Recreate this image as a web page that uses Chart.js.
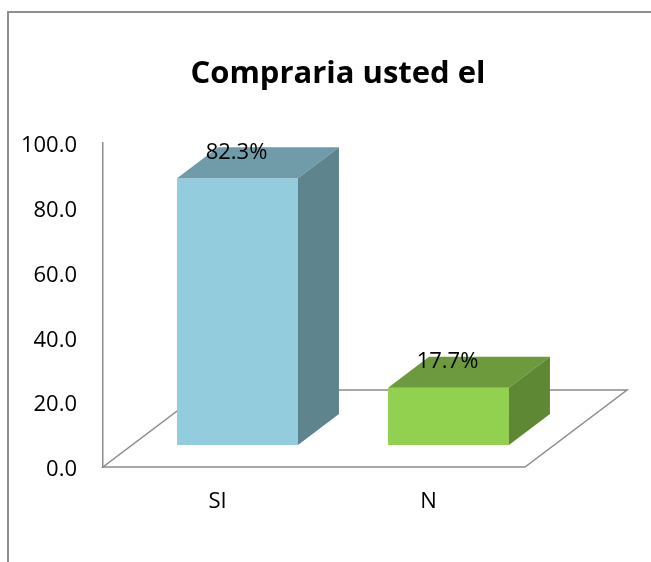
<!DOCTYPE html>
<html>
<head>
<meta charset="utf-8">
<script src="https://cdn.jsdelivr.net/npm/chart.js@4/dist/chart.umd.min.js"></script>
<style>
  html, body { margin: 0; padding: 0; background: #ffffff; }
  #wrap { width: 651px; height: 562px; }
</style>
</head>
<body>
<div id="wrap"><canvas id="c" width="651" height="562"></canvas></div>
<script>
// ---- data ----
const categories = ['SI', 'N'];
const percentValues = [82.3, 17.7];
const valueLabels = ['82.3%', '17.7%'];
const yTickValues = [0, 20, 40, 60, 80, 100];
const chartTitle = 'Compraria usted el';

// ---- styling ----
const frontColors = ['#93CDDD', '#92D050'];
const topColors = ['#6F9CA8', '#6E9A3E'];
const sideColors = ['#5E848D', '#5E8833'];
const FONT = "'Open Sans', 'DejaVu Sans', sans-serif";

// depth geometry (pixels)
const FLOOR_DX = 102, FLOOR_DY = -77;   // full floor depth
const BAR_SHIFT_X = 29, BAR_SHIFT_Y = -22; // bar front plane offset
const BAR_DX = 41, BAR_DY = -31;        // bar depth

const frame3d = {
  id: 'frame3d',
  beforeDraw(chart) {
    const ctx = chart.ctx;
    ctx.save();
    ctx.fillStyle = '#ffffff';
    ctx.fillRect(0, 0, chart.width, chart.height);
    ctx.strokeStyle = '#8E8E8E';
    ctx.lineWidth = 2;
    ctx.strokeRect(8, 12, 800, 800);
    // chart title
    ctx.fillStyle = '#000000';
    ctx.font = 'bold 31px ' + FONT;
    ctx.textAlign = 'center';
    ctx.textBaseline = 'alphabetic';
    ctx.fillText(chartTitle, 338, 83);
    ctx.restore();
  },
  beforeDatasetsDraw(chart) {
    const ctx = chart.ctx;
    const a = chart.chartArea;
    ctx.save();
    ctx.strokeStyle = '#8C8C8C';
    ctx.lineWidth = 1.5;
    ctx.beginPath();
    ctx.moveTo(a.left, a.bottom);
    ctx.lineTo(a.right, a.bottom);
    ctx.lineTo(a.right + FLOOR_DX, a.bottom + FLOOR_DY);
    ctx.lineTo(a.left + FLOOR_DX, a.bottom + FLOOR_DY);
    ctx.closePath();
    ctx.stroke();
    ctx.restore();
    ctx.save();
    ctx.translate(BAR_SHIFT_X, BAR_SHIFT_Y);
  },
  afterDatasetsDraw(chart) {
    const ctx = chart.ctx;
    const meta = chart.getDatasetMeta(0);
    meta.data.forEach((bar, i) => {
      const p = bar.getProps(['x', 'y', 'base', 'width'], true);
      const l = p.x - p.width / 2, r = p.x + p.width / 2, t = p.y, b = p.base;
      // top face
      ctx.fillStyle = topColors[i];
      ctx.beginPath();
      ctx.moveTo(l, t);
      ctx.lineTo(r, t);
      ctx.lineTo(r + BAR_DX, t + BAR_DY);
      ctx.lineTo(l + BAR_DX, t + BAR_DY);
      ctx.closePath();
      ctx.fill();
      // side face
      ctx.fillStyle = sideColors[i];
      ctx.beginPath();
      ctx.moveTo(r, t);
      ctx.lineTo(r + BAR_DX, t + BAR_DY);
      ctx.lineTo(r + BAR_DX, b + BAR_DY);
      ctx.lineTo(r, b);
      ctx.closePath();
      ctx.fill();
    });
    // value labels
    ctx.fillStyle = '#000000';
    ctx.font = '22px ' + FONT;
    ctx.textAlign = 'center';
    ctx.textBaseline = 'middle';
    meta.data.forEach((bar, i) => {
      const p = bar.getProps(['x', 'y'], true);
      ctx.fillText(valueLabels[i], p.x - 1, p.y - 26);
    });
    ctx.restore();
  }
};

new Chart(document.getElementById('c'), {
  type: 'bar',
  data: {
    labels: categories,
    datasets: [{
      data: percentValues,
      backgroundColor: frontColors,
      borderWidth: 0,
      categoryPercentage: 1.0,
      barPercentage: 0.573
    }]
  },
  options: {
    responsive: false,
    animation: false,
    devicePixelRatio: 1,
    layout: { padding: { left: 0, right: 126, top: 143, bottom: 0 } },
    plugins: {
      legend: { display: false },
      tooltip: { enabled: false },
      title: { display: false }
    },
    scales: {
      x: {
        grid: { display: false, drawTicks: false },
        border: { display: false },
        ticks: {
          color: '#000000',
          font: { family: FONT, size: 22 },
          padding: 22,
          labelOffset: 9
        },
        afterFit(scale) { scale.height = 562 - 467; }
      },
      y: {
        min: 0,
        max: 100,
        afterBuildTicks(scale) { scale.ticks = yTickValues.map(v => ({ value: v })); },
        grid: { display: false, drawTicks: false },
        border: { display: true, color: '#8C8C8C', width: 1.5 },
        ticks: {
          color: '#000000',
          font: { family: FONT, size: 22 },
          padding: 26,
          labelOffset: 3,
          callback: (v) => Number(v).toFixed(1)
        },
        afterFit(scale) { scale.width = 103; }
      }
    }
  },
  plugins: [frame3d]
});
</script>
</body>
</html>
